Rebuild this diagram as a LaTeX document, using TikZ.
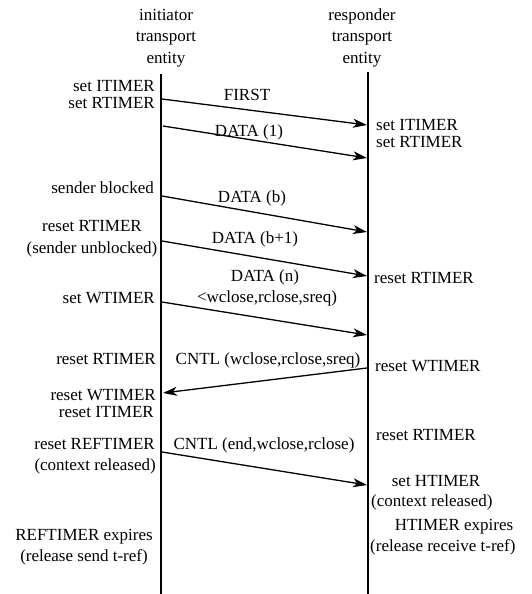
\documentclass[tikz,border=0pt]{standalone}
\usepackage{fontspec}
\setmainfont{Liberation Serif}
\usetikzlibrary{arrows.meta}
\begin{document}
\begin{tikzpicture}[x=1pt,y=-1pt,
  lbl/.style={inner sep=0pt,font=\fontsize{17}{20}\selectfont,text height=10pt,text depth=2.8pt},
  life/.style={line width=1.8pt},
  msg/.style={line width=1.3pt,-{Stealth[length=14pt,width=9pt,inset=4pt]}}]
\useasboundingbox (0,0) rectangle (531,594);
% headers
\node[lbl] (h1) at (166,17) {initiator};
\node[lbl] (h2) at (166,38) {transport};
\node[lbl] (h3) at (166,60) {entity};
\node[lbl] (r1) at (362,17) {responder};
\node[lbl] (r2) at (362,38) {transport};
\node[lbl] (r3) at (362,60) {entity};
% lifelines
\coordinate (Lt) at (161,74); \coordinate (Lb) at (161,594);
\coordinate (Rt) at (368,72); \coordinate (Rb) at (368,594);
\draw[life] (Lt) -- (Lb);
\draw[life,line width=1.4pt] (Rt) -- (Rb);
% message endpoints
\coordinate (m1s) at (162,99);  \coordinate (m1e) at (367,125);
\coordinate (m2s) at (163,126); \coordinate (m2e) at (367,158);
\coordinate (m3s) at (162,196); \coordinate (m3e) at (367,232);
\coordinate (m4s) at (162,241); \coordinate (m4e) at (367,276);
\coordinate (m5s) at (162,302); \coordinate (m5e) at (367,335);
\coordinate (m6s) at (367,368); \coordinate (m6e) at (163,393);
\coordinate (m7s) at (162,452); \coordinate (m7e) at (367,485);
\draw[msg] (m1s) -- (m1e);
\draw[msg] (m2s) -- (m2e);
\draw[msg] (m3s) -- (m3e);
\draw[msg] (m4s) -- (m4e);
\draw[msg] (m5s) -- (m5e);
\draw[msg] (m6s) -- (m6e);
\draw[msg] (m7s) -- (m7e);
% message labels
\node[lbl] (t1) at (247,97) {FIRST};
\node[lbl] (t2) at (249,133) {DATA (1)};
\node[lbl] (t3) at (252,199) {DATA (b)};
\node[lbl] (t4) at (255,240) {DATA (b+1)};
\node[lbl] (t5) at (265,278) {DATA (n)};
\node[lbl] (t5b) at (267,299) {<wclose,rclose,sreq)};
\node[lbl] (t6) at (268,361) {CNTL (wclose,rclose,sreq)};
\node[lbl] (t7) at (264,446) {CNTL (end,wclose,rclose)};
% left labels
\node[lbl,anchor=east] (l1) at (155,88) {set ITIMER};
\node[lbl,anchor=east] (l2) at (155,105) {set RTIMER};
\node[lbl,anchor=east] (l3) at (154,190) {sender blocked};
\node[lbl] (l4) at (92,228) {reset RTIMER};
\node[lbl] (l5) at (92,250) {(sender unblocked)};
\node[lbl,anchor=east] (l6) at (155,300) {set WTIMER};
\node[lbl,anchor=east] (l7) at (156,361) {reset RTIMER};
\node[lbl,anchor=east] (l8) at (156,397) {reset WTIMER};
\node[lbl,anchor=east] (l9) at (154,414) {reset ITIMER};
\node[lbl,anchor=east] (l10) at (155,446) {reset REFTIMER};
\node[lbl,anchor=east] (l11) at (156,467) {(context released)};
\node[lbl] (l12) at (84,537) {REFTIMER expires};
\node[lbl] (l13) at (84,558) {(release send t-ref)};
% right labels
\node[lbl,anchor=west] (q1) at (376,127) {set ITIMER};
\node[lbl,anchor=west] (q2) at (376,144) {set RTIMER};
\node[lbl,anchor=west] (q3) at (374,280) {reset RTIMER};
\node[lbl,anchor=west] (q4) at (375,368) {reset WTIMER};
\node[lbl,anchor=west] (q5) at (376,437) {reset RTIMER};
\node[lbl] (q6) at (436,483) {set HTIMER};
\node[lbl,anchor=west] (q7) at (371,503) {(context released)};
\node[lbl] (q8) at (454,527) {HTIMER expires};
\node[lbl,anchor=west] (q9) at (370,548) {(release receive t-ref)};
\end{tikzpicture}
\end{document}
